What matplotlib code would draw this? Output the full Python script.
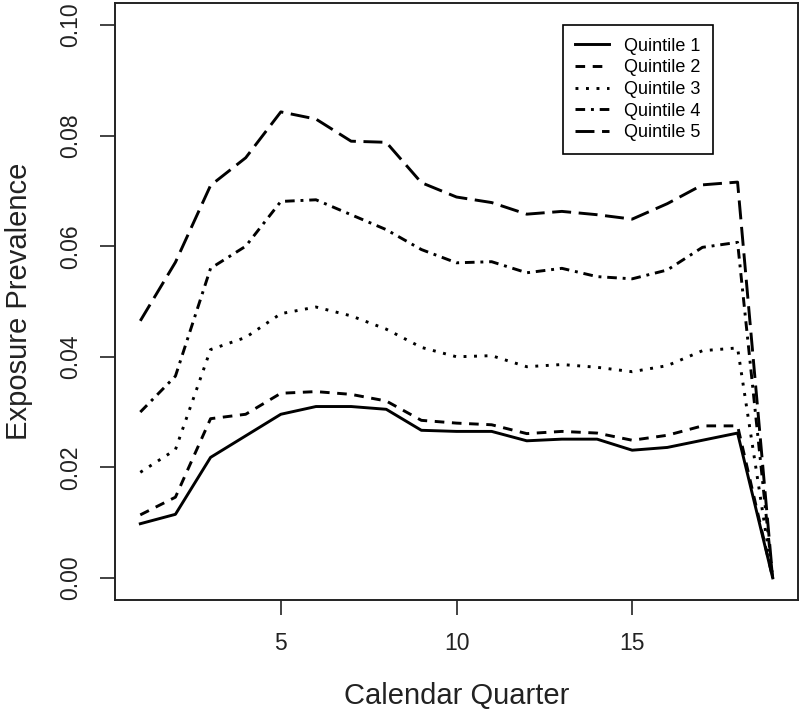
import matplotlib
matplotlib.use("Agg")
import matplotlib.pyplot as plt

plt.rcParams['font.family'] = ['Liberation Sans', 'DejaVu Sans']

# calendar quarters and exposure prevalence per quintile
quarters = list(range(1, 20))
q1 = [0.0098, 0.0115, 0.0218, 0.0257, 0.0296, 0.0310, 0.0310, 0.0305, 0.0267, 0.0265,
      0.0265, 0.0248, 0.0251, 0.0251, 0.0231, 0.0236, 0.0249, 0.0262, 0.0]
q2 = [0.0114, 0.0146, 0.0288, 0.0296, 0.0334, 0.0337, 0.0332, 0.0320, 0.0285, 0.0280,
      0.0277, 0.0261, 0.0265, 0.0262, 0.0249, 0.0258, 0.0275, 0.0275, 0.0]
q3 = [0.0191, 0.0232, 0.0413, 0.0435, 0.0478, 0.0490, 0.0474, 0.0450, 0.0417, 0.0400,
      0.0402, 0.0382, 0.0386, 0.0381, 0.0373, 0.0384, 0.0411, 0.0416, 0.0]
q4 = [0.0300, 0.0365, 0.0560, 0.0600, 0.0681, 0.0684, 0.0657, 0.0630, 0.0594, 0.0570,
      0.0572, 0.0552, 0.0560, 0.0545, 0.0541, 0.0557, 0.0598, 0.0607, 0.0]
q5 = [0.0465, 0.0571, 0.0710, 0.0760, 0.0843, 0.0830, 0.0790, 0.0788, 0.0715, 0.0689,
      0.0679, 0.0658, 0.0663, 0.0657, 0.0649, 0.0677, 0.0711, 0.0716, 0.0]
labels = ['Quintile 1', 'Quintile 2', 'Quintile 3', 'Quintile 4', 'Quintile 5']

styles = ['-', (0, (3.3, 2.6)), (0, (1, 2.6)), (0, (3.3, 2.0, 1, 2.0)), (0, (6.5, 2.6))]

fig = plt.figure(figsize=(8, 7.12), dpi=100)
ax = fig.add_axes([115 / 800, 112 / 712, 683 / 800, 597 / 712])

for vals, ls, lab in zip([q1, q2, q3, q4, q5], styles, labels):
    ax.plot(quarters, vals, color='black', linestyle=ls, linewidth=2.1, label=lab)

ax.set_xlim(0.28, 19.72)
ax.set_ylim(-0.004, 0.104)
ax.set_xticks([5, 10, 15])
ax.set_xticklabels(['5', '10', '15'])
yt = [0.0, 0.02, 0.04, 0.06, 0.08, 0.10]
ax.set_yticks(yt)
ax.set_yticklabels(['%.2f' % v for v in yt], rotation=90, va='center')
ax.tick_params(axis='both', length=10.8, width=1.2, labelsize=16.5,
               color='#222222', labelcolor='#222222')
ax.tick_params(axis='y', pad=13)
ax.tick_params(axis='x', pad=12)
for s in ax.spines.values():
    s.set_linewidth(1.4)
    s.set_color('#222222')

leg = ax.legend(loc='upper left', bbox_to_anchor=(0.6555, 0.9631), fontsize=13,
                fancybox=False, edgecolor='black', framealpha=1,
                handlelength=1.85, handletextpad=0.85, borderpad=0.7,
                labelspacing=0.26, borderaxespad=0)
leg.get_frame().set_linewidth(1.2)

ax_mid_x = (115 + 798) / 2 / 800
ax_mid_y = 1 - (3 + 600) / 2 / 712
fig.text(27 / 800, ax_mid_y, 'Exposure Prevalence', rotation=90, rotation_mode='anchor',
         ha='center', va='baseline', fontsize=21, color='#222222')
fig.text(ax_mid_x, 1 - 704 / 712, 'Calendar Quarter',
         ha='center', va='baseline', fontsize=21, color='#222222')

fig.savefig('out.png', dpi=100)
